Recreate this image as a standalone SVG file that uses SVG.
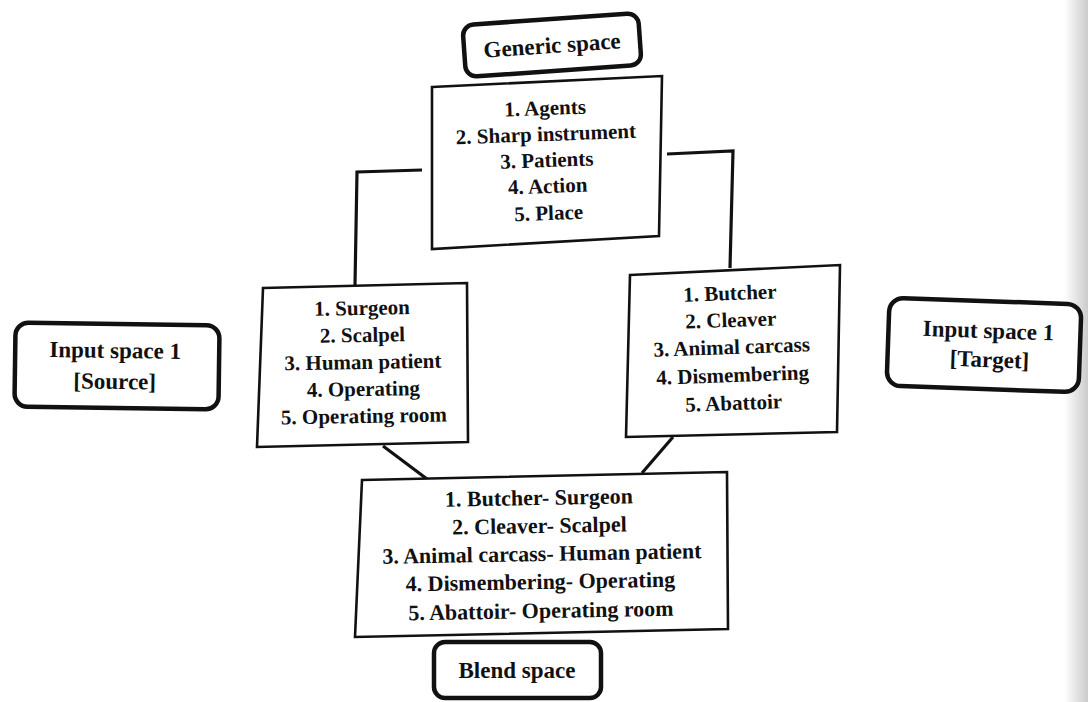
<svg xmlns="http://www.w3.org/2000/svg" width="1088" height="702" viewBox="0 0 1088 702">
<defs>
<style>
.box{fill:#fff;stroke:#111;stroke-width:2.6;stroke-linejoin:miter}
.lbl{fill:#fff;stroke:#111;stroke-width:4.5}
.conn{fill:none;stroke:#111;stroke-width:3.2;stroke-linejoin:miter}
.t{font-family:"Liberation Serif","Times New Roman",serif;font-weight:bold;fill:#111;text-anchor:middle}
.c{font-size:21px}
.b{font-size:22px}
.l{font-size:23px}
</style>
<linearGradient id="edge" x1="0" y1="0" x2="1" y2="0">
<stop offset="0" stop-color="#ffffff"/>
<stop offset="1" stop-color="#cbcbcb"/>
</linearGradient>
</defs>
<rect x="0" y="0" width="1088" height="702" fill="#fff"/>
<rect x="1064" y="0" width="24" height="702" fill="url(#edge)"/>

<g id="connectors">
<polyline class="conn" points="422,170 357,172 355,285"/>
<polyline class="conn" points="667,154 733,151 730,268"/>
<line class="conn" x1="383" y1="446" x2="427" y2="479"/>
<line class="conn" x1="673" y1="437" x2="642" y2="473"/>
</g>

<g id="generic-label" transform="rotate(-4 552 45)">
<rect class="lbl" x="464" y="19" width="176" height="52" rx="11"/>
<text class="t l" x="552" y="53">Generic space</text>
</g>

<g id="generic-space">
<polygon class="box" points="432,87 662,76 659,236 432,249"/>
<g transform="rotate(-2 547 165)">
<text class="t c" x="547" y="115">1. Agents</text>
<text class="t c" x="547" y="141">2. Sharp instrument</text>
<text class="t c" x="547" y="167">3. Patients</text>
<text class="t c" x="547" y="193">4. Action</text>
<text class="t c" x="547" y="220">5. Place</text>
</g>
</g>

<g id="source-label" transform="rotate(0.8 117 366)">
<rect class="lbl" x="15" y="324" width="204" height="84" rx="13"/>
<text class="t l" x="115" y="358">Input space 1</text>
<text class="t l" x="115" y="389">[Source]</text>
</g>

<g id="input-source">
<polygon class="box" points="263,288 467,283 468,442 257,447"/>
<g transform="rotate(-1 362 365)">
<text class="t c" x="363" y="315">1. Surgeon</text>
<text class="t c" x="363" y="342">2. Scalpel</text>
<text class="t c" x="363" y="369">3. Human patient</text>
<text class="t c" x="363" y="396">4. Operating</text>
<text class="t c" x="363" y="423">5. Operating room</text>
</g>
</g>

<g id="input-target">
<polygon class="box" points="630,275 840,265 837,432 626,437"/>
<g transform="rotate(-2 732 355)">
<text class="t c" x="732" y="300">1. Butcher</text>
<text class="t c" x="732" y="327">2. Cleaver</text>
<text class="t c" x="732" y="354">3. Animal carcass</text>
<text class="t c" x="732" y="382">4. Dismembering</text>
<text class="t c" x="732" y="410">5. Abattoir</text>
</g>
</g>

<g id="target-label" transform="rotate(2 984 345)">
<rect class="lbl" x="888" y="301" width="192" height="88" rx="14"/>
<text class="t l" x="988" y="338">Input space 1</text>
<text class="t l" x="990" y="367">[Target]</text>
</g>

<g id="blend-space">
<polygon class="box" points="362,480 727,472 728,629 355,637"/>
<g transform="rotate(-1 540 560)">
<text class="t b" x="540" y="505">1. Butcher- Surgeon</text>
<text class="t b" x="540" y="533">2. Cleaver- Scalpel</text>
<text class="t b" x="542" y="561">3. Animal carcass- Human patient</text>
<text class="t b" x="540" y="589">4. Dismembering- Operating</text>
<text class="t b" x="540" y="618">5. Abattoir- Operating room</text>
</g>
</g>

<g id="blend-label">
<rect class="lbl" x="434" y="642" width="167" height="56" rx="11"/>
<text class="t l" x="517" y="678">Blend space</text>
</g>
</svg>
